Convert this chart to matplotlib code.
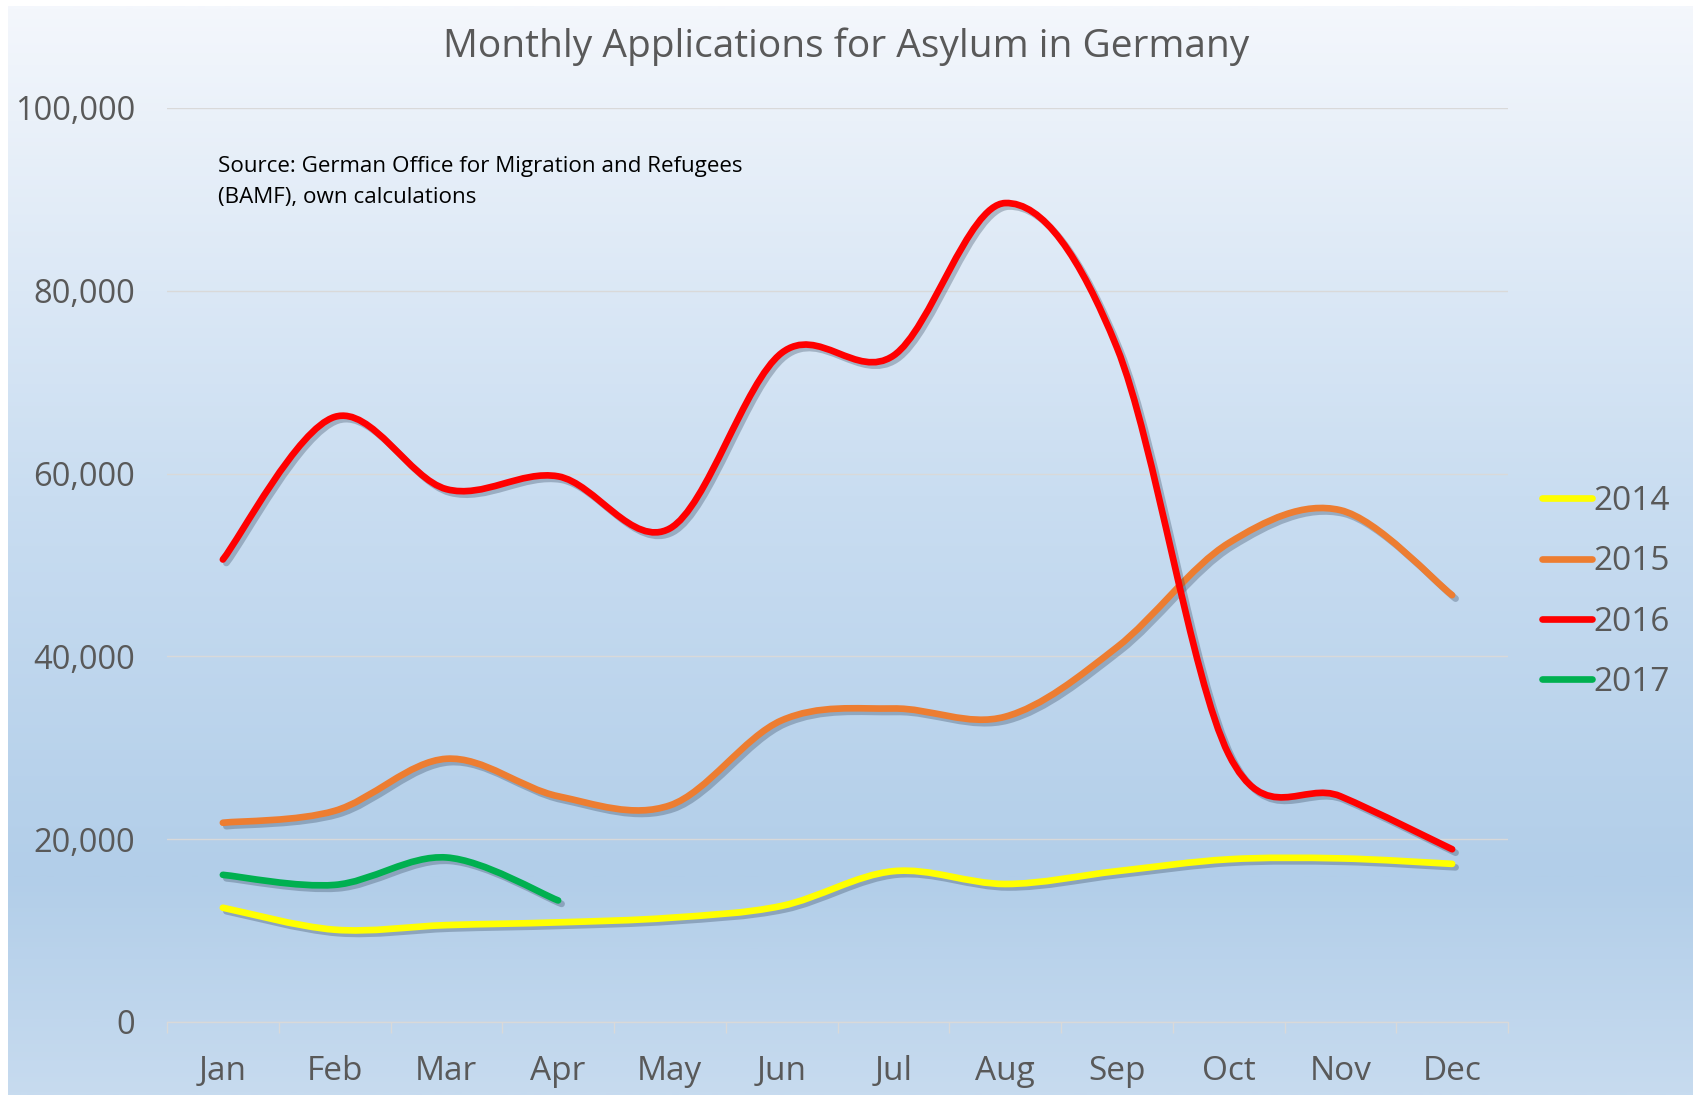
import numpy as np
import matplotlib
matplotlib.use("Agg")
import matplotlib.pyplot as plt
from matplotlib.path import Path
from matplotlib.patches import PathPatch
from matplotlib.lines import Line2D
from matplotlib.colors import LinearSegmentedColormap
import matplotlib.patheffects as pe

months = ["Jan", "Feb", "Mar", "Apr", "May", "Jun", "Jul", "Aug", "Sep", "Oct", "Nov", "Dec"]
y2014 = [12500, 10100, 10600, 10900, 11400, 12700, 16500, 15100, 16500, 17800, 17900, 17300]
y2015 = [21800, 23100, 28800, 24700, 23700, 33000, 34300, 33400, 41000, 52400, 56000, 46700]
y2016 = [50600, 66200, 58300, 59700, 54000, 73200, 72900, 89600, 73800, 29300, 24700, 18900]
y2017 = [16100, 15000, 18000, 13300]
series_names = ["2014", "2015", "2016", "2017"]
series_vals = [y2014, y2015, y2016, y2017]
series_colors = ["#FFFF00", "#ED7D31", "#FF0000", "#00B050"]
yticks = [0, 20000, 40000, 60000, 80000, 100000]

plt.rcParams['font.family'] = ['Open Sans', 'DejaVu Sans']

fig = plt.figure(figsize=(16.93, 10.95), dpi=100)
fig.patch.set_facecolor("white")

# background gradient
bg = fig.add_axes([8/1693, 0, 1 - 8/1693, 1 - 6/1095], zorder=-10)
cmap = LinearSegmentedColormap.from_list(
    "bg", [(0.0, "#C7DBEF"), (0.2, "#B2CEE9"), (0.55, "#C9DDF1"), (1.0, "#F4F7FC")])
grad = np.linspace(0, 1, 512).reshape(-1, 1)
bg.imshow(grad, aspect="auto", cmap=cmap, origin="lower", extent=[0, 1, 0, 1])
bg.set_axis_off()

ax = fig.add_axes([167/1693, 1 - 1022/1095, (1508 - 167)/1693, (1022 - 108)/1095])
ax.set_facecolor("none")
ax.set_xlim(-0.5, 11.5)
ax.set_ylim(0, 100000)


def smooth_path(xs, ys):
    pts = np.column_stack([xs, ys]).astype(float)
    n = len(pts)
    verts = [pts[0]]
    codes = [Path.MOVETO]
    for i in range(n - 1):
        p0 = pts[i - 1] if i > 0 else pts[i]
        p1 = pts[i]
        p2 = pts[i + 1]
        p3 = pts[i + 2] if i + 2 < n else pts[i + 1]
        c1 = p1 + (p2 - p0) / 6.0
        c2 = p2 - (p3 - p1) / 6.0
        verts += [c1, c2, p2]
        codes += [Path.CURVE4] * 3
    return Path(verts, codes)


shadow = [pe.SimpleLineShadow(offset=(2.5, -2.5), shadow_color="#2E4057", alpha=0.3),
          pe.Normal()]
for name, vals, col in zip(series_names, series_vals, series_colors):
    xs = np.arange(len(vals))
    patch = PathPatch(smooth_path(xs, vals), facecolor="none", edgecolor=col,
                      lw=4.8, capstyle="round", joinstyle="round", zorder=3)
    patch.set_path_effects(shadow)
    ax.add_patch(patch)

# gridlines
ax.set_yticks(yticks)
ax.set_yticklabels([f"{v:,}" for v in yticks])
ax.grid(axis="y", color="#D9D9D9", lw=1.0, zorder=0)
ax.tick_params(axis="y", length=0, pad=23, labelsize=23.5, labelcolor="#595959")
for s in ["left", "right", "top"]:
    ax.spines[s].set_visible(False)
ax.spines["bottom"].set_color("#D9D9D9")
ax.spines["bottom"].set_linewidth(1.0)

ax.set_xticks(range(12))
ax.set_xticklabels(months)
ax.set_xticks(np.arange(-0.5, 12, 1), minor=True)
ax.tick_params(axis="x", which="major", length=0, pad=24, labelsize=24, labelcolor="#595959")
ax.tick_params(axis="x", which="minor", length=8, width=1.0, color="#D9D9D9")

fig.text(0.5, 1 - 47/1095, "Monthly Applications for Asylum in Germany",
         ha="center", va="center", fontsize=28, color="#595959")
fig.text(218/1693, 1 - 182/1095, "Source: German Office for Migration and Refugees\n(BAMF), own calculations",
         ha="left", va="center", fontsize=16.1, color="#000000", linespacing=1.68)

handles = [Line2D([0], [0], color=c, lw=4.8, solid_capstyle="round") for c in series_colors]
leg = fig.legend(handles, series_names, loc="center left",
                 bbox_to_anchor=(1542/1693, 1 - 592/1095), frameon=False,
                 fontsize=24, handlelength=1.5, handletextpad=0.05,
                 labelspacing=0.82, borderpad=0, borderaxespad=0)
for t in leg.get_texts():
    t.set_color("#595959")

fig.savefig("out.png", dpi=100)
